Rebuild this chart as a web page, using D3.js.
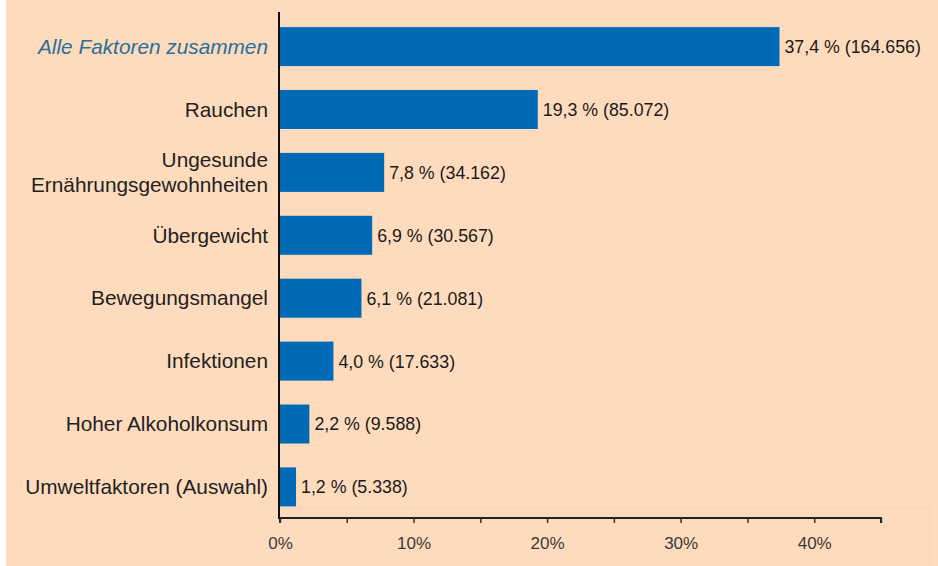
<!DOCTYPE html>
<html lang="de">
<head>
<meta charset="UTF-8">
<title>Risikofaktoren</title>
<style>
  html, body { margin: 0; padding: 0; background: #fff; }
  svg { display: block; }
</style>
</head>
<body>
<div id="chart"></div>
<script src="https://cdn.jsdelivr.net/npm/d3@7/dist/d3.min.js"></script>
<script>
// data
const categories = [
    "Alle Faktoren zusammen",
    "Rauchen",
    "Ungesunde\nErnährungsgewohnheiten",
    "Übergewicht",
    "Bewegungsmangel",
    "Infektionen",
    "Hoher Alkoholkonsum",
    "Umweltfaktoren (Auswahl)"
];
const percents = [37.4, 19.3, 7.8, 6.9, 6.1, 4.0, 2.2, 1.2];
const cases = ["164.656", "85.072", "34.162", "30.567", "21.081", "17.633", "9.588", "5.338"];
const xTicks = [0, 10, 20, 30, 40];

const W = 938, H = 566;
const font = "'Liberation Sans', Arial, sans-serif";
const svg = d3.select("#chart").append("svg")
    .attr("width", W)
    .attr("height", H);

// background
svg.append("rect").attr("x", 6).attr("y", 0).attr("width", W - 6).attr("height", H)
    .attr("fill", "#fedbbd");
// faint frame lines
svg.append("line").attr("x1", 17).attr("x2", W).attr("y1", 17.5).attr("y2", 17.5)
    .attr("stroke", "#fbe2cc").attr("stroke-width", 1);
svg.append("path").attr("d", "M275,508.5 H929.5 V566")
    .attr("fill", "none").attr("stroke", "#f4d3b6").attr("stroke-width", 1);

const x = d3.scaleLinear().domain([0, 45]).range([280, 881]);
const y = d3.scaleBand().domain(categories).range([14.5, 519])
    .paddingInner(0.38).paddingOuter(0.2);

// bars
svg.append("g").selectAll("rect")
    .data(categories)
    .join("rect")
    .attr("x", x(0))
    .attr("y", d => y(d))
    .attr("width", (d, i) => x(percents[i]) - x(0))
    .attr("height", y.bandwidth())
    .attr("fill", "#006ab6");

// value labels
svg.append("g").selectAll("text")
    .data(categories)
    .join("text")
    .attr("x", (d, i) => x(percents[i]) + 5)
    .attr("y", d => y(d) + y.bandwidth() / 2)
    .attr("dy", "0.36em")
    .attr("font-family", font)
    .attr("font-size", 17.8)
    .attr("fill", "#1a1a1a")
    .text((d, i) => percents[i].toFixed(1).replace(".", ",") + " % (" + cases[i] + ")");

// category labels
const catLabels = svg.append("g").selectAll("text")
    .data(categories)
    .join("text")
    .attr("x", 268)
    .attr("y", d => y(d) + y.bandwidth() / 2)
    .attr("text-anchor", "end")
    .attr("font-family", font)
    .attr("font-size", 20.8)
    .attr("fill", (d, i) => i === 0 ? "#2c6f97" : "#222")
    .attr("font-style", (d, i) => i === 0 ? "italic" : "normal");

catLabels.each(function(d) {
    const lines = d.split("\n");
    const t = d3.select(this);
    lines.forEach((line, j) => {
        t.append("tspan")
            .attr("x", 268)
            .attr("dy", j === 0 ? (0.35 - (lines.length - 1) * 0.6) + "em" : "1.2em")
            .text(line);
    });
});

// x axis
const xAxis = d3.axisBottom(x)
    .tickValues(d3.range(0, 46, 5))
    .tickSize(5)
    .tickFormat(d => xTicks.includes(d) ? d + "%" : "");

const gx = svg.append("g")
    .attr("transform", "translate(0,518)")
    .call(xAxis);
gx.select(".domain").attr("stroke", "#222").attr("stroke-width", 2)
    .attr("d", `M${x(0)},5V0H${x(45)}V5`);
gx.selectAll(".tick line").attr("stroke", "#333").attr("stroke-width", 1.5);
gx.selectAll(".tick text")
    .attr("font-family", font)
    .attr("font-size", 17)
    .attr("fill", "#3a3a3a")
    .attr("dy", "1.35em");

// y axis line
svg.append("line")
    .attr("x1", 279).attr("x2", 279)
    .attr("y1", 12).attr("y2", 519)
    .attr("stroke", "#111").attr("stroke-width", 2);
</script>
</body>
</html>
